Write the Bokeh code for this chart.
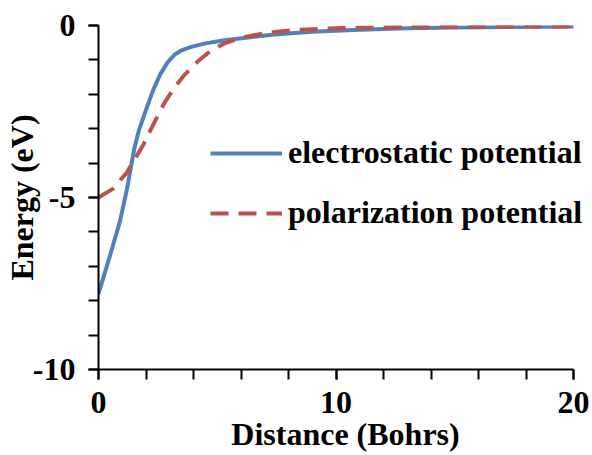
from bokeh.plotting import figure
from bokeh.models import FixedTicker, Range1d, Legend, LegendItem
from bokeh.embed import file_html
from bokeh.resources import INLINE

# Data
dist_es = [0, 0.5, 0.9, 1.2, 1.5, 1.7, 2.0, 2.3, 2.6, 2.9, 3.2, 3.5, 3.9, 4.5, 5.3, 6.3,
           7.4, 9, 11, 13, 15, 17.5, 20]
elec = [-7.8, -6.65, -5.7, -4.75, -3.6, -3.05, -2.45, -1.88, -1.42, -1.08, -0.85, -0.72,
        -0.62, -0.52, -0.43, -0.35, -0.26, -0.18, -0.12, -0.08, -0.06, -0.04, -0.03]
dist_pol = [0, 0.6, 1.2, 1.9, 2.4, 2.8, 3.2, 3.6, 4.2, 4.7, 5.3, 6.0, 6.8, 7.5, 8.5, 10,
            12, 14, 16, 18, 20]
polar = [-5.0, -4.75, -4.27, -3.45, -2.75, -2.22, -1.8, -1.45, -1.03, -0.75, -0.52, -0.36,
         -0.25, -0.18, -0.12, -0.08, -0.05, -0.04, -0.03, -0.03, -0.03]
x_major = [0, 10, 20]
x_minor = list(range(0, 21, 2))
y_major = [-10, -5, 0]
y_minor = list(range(-10, 1))
y_labels = ["-10", "-5", "0"]
series_names = ["electrostatic potential", "polarization potential"]

FONT = "Liberation Serif"

# frame spans x = 0..20 over 475 px; extend the range to the canvas edge so the
# legend text is not clipped, and bound the axis to 0..20
x_end = 20 + 19 / 23.75

p = figure(width=592, height=455, output_backend="svg", toolbar_location=None,
           x_range=Range1d(0, x_end), y_range=Range1d(-10, 0),
           min_border_left=98, min_border_right=0, min_border_top=25, min_border_bottom=86)
p.outline_line_color = None
p.grid.visible = False
p.background_fill_color = "white"
p.border_fill_color = "white"

r1 = p.line(dist_es, elec, line_color="#4F81BD", line_width=4, line_join="round")
r2 = p.line(dist_pol, polar, line_color="#C0504D", line_width=4, line_dash="18 10",
            line_join="round")

for ax in (p.xaxis[0], p.yaxis[0]):
    ax.axis_line_width = 2
    ax.axis_line_color = "black"
    ax.major_tick_line_width = 2
    ax.minor_tick_line_width = 2
    ax.major_tick_line_color = "black"
    ax.minor_tick_line_color = "black"
    ax.major_tick_out = 10
    ax.major_tick_in = 0
    ax.minor_tick_out = 10
    ax.minor_tick_in = 0
    ax.major_label_text_font = FONT
    ax.major_label_text_font_style = "bold"
    ax.major_label_text_font_size = "32px"
    ax.major_label_text_color = "black"
    ax.axis_label_text_font = FONT
    ax.axis_label_text_font_style = "bold"
    ax.axis_label_text_font_size = "32px"
    ax.axis_label_text_color = "black"

p.xaxis[0].bounds = (0, 20)
p.xaxis[0].ticker = FixedTicker(ticks=x_major, minor_ticks=x_minor)
p.yaxis[0].ticker = FixedTicker(ticks=y_major, minor_ticks=y_minor)
p.yaxis[0].major_label_overrides = dict(zip(y_major, y_labels))
p.xaxis[0].axis_label = "Distance (Bohrs)"
p.yaxis[0].axis_label = "Energy (eV)"
p.xaxis[0].major_label_standoff = 12
p.yaxis[0].major_label_standoff = 13
p.xaxis[0].axis_label_standoff = 0
p.yaxis[0].axis_label_standoff = -10

legend = Legend(items=[LegendItem(label=series_names[0], renderers=[r1]),
                       LegendItem(label=series_names[1], renderers=[r2])],
                location=(112, 138), padding=0, margin=0, spacing=23,
                glyph_width=72, glyph_height=30, label_standoff=6,
                label_height=30,
                label_text_font=FONT, label_text_font_style="bold",
                label_text_font_size="32px", label_text_color="black",
                border_line_color=None, background_fill_alpha=0)
p.add_layout(legend, "center")

open("out.html", "w").write(file_html(p, INLINE))
